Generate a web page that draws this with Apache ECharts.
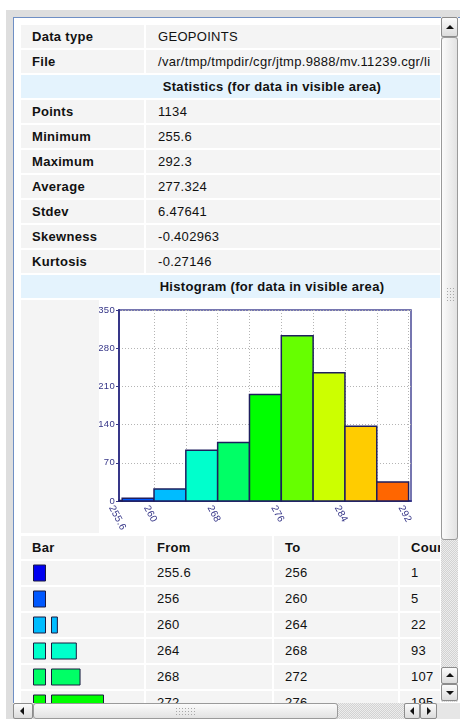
<!DOCTYPE html>
<html lang="en">
<head>
<meta charset="UTF-8" />
<title>Histogram</title>
<script src="https://cdn.jsdelivr.net/npm/echarts@6/dist/echarts.min.js"></script>
<style>
    body {
        margin: 0;
        padding: 0;
        width: 460px;
        height: 719px;
        overflow: hidden;
        background: #fff;
        position: relative;
        font-family: "Liberation Sans", Arial, sans-serif;
        font-size: 13px;
        letter-spacing: 0.3px;
        color: #111;
    }
    .frame { position: absolute; left: 6px; top: 10px; width: 454px; height: 709px; background: #dedede; }
    .panel { position: absolute; left: 13px; top: 17px; width: 447px; height: 702px; background: #fff;
             border-left: 1px solid #6f8fc4; border-top: 1px solid #6f8fc4; box-sizing: border-box; }
    .view { position: absolute; left: 14px; top: 18px; width: 426px; height: 685px; overflow: hidden; background: #fff; }
    .content { position: absolute; left: 7px; top: 7px; width: 502px; height: 800px; }
    .cell { position: absolute; background: #f4f4f4; white-space: nowrap; overflow: hidden; box-sizing: border-box; padding-left: 11px; }
    .lab { font-weight: bold; }
    .val { padding-left: 12px; }
    .head { background: #e4f3fd; font-weight: bold; text-align: center; padding-left: 0; }
    .sb { position: absolute; background: repeating-conic-gradient(#d2d2d2 0 25%, #ededed 0 50%) 0 0/2px 2px; }
    .btn { position: absolute; box-sizing: border-box; border: 1px solid #8c8c8c; border-radius: 2px;
           background: linear-gradient(#fbfbfb, #dcdcdc); }
    .thumb { position: absolute; box-sizing: border-box; border: 1px solid #9a9a9a; border-radius: 3px; }
    .tri { position: absolute; width: 0; height: 0; }
    .grip { position: absolute; background: radial-gradient(circle, #a8a8a8 0.6px, transparent 0.9px) 0 0/3px 3px; }
</style>
</head>
<body>
<div class="frame"></div>
<div class="panel"></div>
<div class="view"><div class="content" id="content"></div></div>
<script>
    // info rows
    const infoLabels = ['Data type', 'File'];
    const infoValues = ['GEOPOINTS', '/var/tmp/tmpdir/cgr/jtmp.9888/mv.11239.cgr/li'];
    const statsTitle = 'Statistics (for data in visible area)';
    const statNames = ['Points', 'Minimum', 'Maximum', 'Average', 'Stdev', 'Skewness', 'Kurtosis'];
    const statValues = ['1134', '255.6', '292.3', '277.324', '6.47641', '-0.402963', '-0.27146'];
    const histTitle = 'Histogram (for data in visible area)';

    // histogram bins
    const binFrom = [255.6, 256, 260, 264, 268, 272, 276, 280, 284, 288];
    const binTo = [256, 260, 264, 268, 272, 276, 280, 284, 288, 292];
    const binCount = [1, 5, 22, 93, 107, 195, 303, 235, 137, 35];
    const binColor = ['#0000f0', '#0058ff', '#00bcff', '#00ffcc', '#00ff66', '#00ff00', '#66ff00', '#ccff00', '#ffcc00', '#ff6600'];

    // axes
    const xMin = 255.6, xMax = 292.3;
    const xGridValues = [255.6, 260, 264, 268, 272, 276, 280, 284, 288, 292];
    const xLabelValues = [255.6, 260, 268, 276, 284, 292];
    const yMax = 350, yStep = 70;

    const tableHead = ['Bar', 'From', 'To', 'Count'];

    const content = document.getElementById('content');
    function cell(top, left, width, height, text, cls) {
        const d = document.createElement('div');
        d.className = 'cell ' + (cls || '');
        d.style.cssText = 'top:' + top + 'px;left:' + left + 'px;width:' + width + 'px;height:' + height + 'px;line-height:' + height + 'px;';
        if (text !== undefined) d.textContent = text;
        content.appendChild(d);
        return d;
    }

    // top table
    let y = 0;
    infoLabels.forEach((t, i) => {
        cell(y, 0, 123, 23, t, 'lab');
        cell(y, 125, 377, 23, infoValues[i], 'val');
        y += 25;
    });
    cell(y, 0, 502, 23, statsTitle, 'head');
    y += 25;
    statNames.forEach((t, i) => {
        cell(y, 0, 123, 23, t, 'lab');
        cell(y, 125, 377, 23, statValues[i], 'val');
        y += 25;
    });
    cell(y, 0, 502, 23, histTitle, 'head');
    y += 25;

    // histogram cell + chart
    cell(y, 0, 502, 233);
    const histDiv = document.createElement('div');
    histDiv.style.cssText = 'position:absolute;left:78px;top:' + y + 'px;width:346px;height:233px;background:#fff;';
    content.appendChild(histDiv);
    y += 236;

    // bottom table
    const colLeft = [0, 125, 253, 379];
    const colWidth = [123, 126, 124, 123];
    tableHead.forEach((t, c) => cell(y, colLeft[c], colWidth[c], 23, t, 'lab'));
    y += 25;
    const rowsTop = y;
    binFrom.forEach((f, i) => {
        cell(y, colLeft[0], colWidth[0], 24);
        cell(y, colLeft[1], colWidth[1], 24, String(f));
        cell(y, colLeft[2], colWidth[2], 24, String(binTo[i]));
        cell(y, colLeft[3], colWidth[3], 24, String(binCount[i]));
        y += 26;
    });
    const barsDiv = document.createElement('div');
    barsDiv.style.cssText = 'position:absolute;left:0;top:' + rowsTop + 'px;width:123px;height:' + (26 * binFrom.length) + 'px;';
    content.appendChild(barsDiv);

    const navy = '#363688';
    const hist = echarts.init(histDiv);
    hist.setOption({
        animation: false,
        grid: {
            left: 20, top: 10, width: 292, height: 191, outerBoundsMode: 'none', containLabel: false,
            show: true, borderColor: '#4a4a96', borderWidth: 1.5, backgroundColor: '#fff'
        },
        xAxis: {
            type: 'value', min: xMin, max: xMax,
            axisLine: { lineStyle: { color: navy, width: 2 } },
            axisTick: { show: false, customValues: xGridValues },
            splitLine: { show: true, lineStyle: { color: '#b4b4b4', type: [1, 2], width: 1 } },
            axisLabel: {
                customValues: xLabelValues, rotate: -62, margin: 1, align: 'left', verticalAlign: 'top', lineHeight: 18,
                color: navy, fontSize: 10, fontFamily: 'Liberation Sans', hideOverlap: false,
                formatter: v => String(v)
            }
        },
        yAxis: {
            type: 'value', min: 0, max: yMax, interval: yStep,
            axisLine: { show: true, lineStyle: { color: navy, width: 2 } },
            axisTick: { show: true, length: 3, lineStyle: { color: navy } },
            splitLine: { show: true, lineStyle: { color: '#b4b4b4', type: [1, 2], width: 1 } },
            axisLabel: { color: navy, fontSize: 9.5, fontFamily: 'Liberation Sans', margin: 4 }
        },
        series: [{
            type: 'custom',
            data: binFrom.map((f, i) => [f, binTo[i], binCount[i]]),
            encode: { x: [0, 1], y: 2 },
            renderItem: function (params, api) {
                const p0 = api.coord([api.value(0), 0]);
                const p1 = api.coord([api.value(1), api.value(2)]);
                return {
                    type: 'rect',
                    shape: { x: p0[0], y: p1[1], width: p1[0] - p0[0], height: p0[1] - p1[1] },
                    style: { fill: binColor[params.dataIndex], stroke: '#1e1e5e', lineWidth: 1.5 }
                };
            }
        }]
    });

    // small bars in the table
    const mini = echarts.init(barsDiv);
    mini.setOption({
        animation: false,
        grid: { left: 30, top: 0, width: 80, height: 26 * binFrom.length, outerBoundsMode: 'none' },
        xAxis: { type: 'value', min: 0, max: 300, show: false },
        yAxis: { type: 'category', inverse: true, data: binFrom.map(String), show: false },
        series: [{
            type: 'custom',
            data: binCount.map((c, i) => [c, i]),
            encode: { x: 0, y: 1 },
            renderItem: function (params, api) {
                const p0 = api.coord([0, api.value(1)]);
                const p1 = api.coord([api.value(0), api.value(1)]);
                const top = p0[1] - 9;
                const style = { fill: binColor[params.dataIndex], stroke: '#1a1a40', lineWidth: 1 };
                const kids = [{ type: 'rect', shape: { x: p0[0] - 17.5, y: top, width: 12, height: 16 }, style: style }];
                if (p1[0] - p0[0] >= 2) {
                    kids.push({ type: 'rect', shape: { x: p0[0] + 0.5, y: top, width: p1[0] - p0[0], height: 16 }, style: style });
                }
                return { type: 'group', children: kids };
            }
        }]
    });

    // scrollbars
    function el(cls, css, parent) {
        const d = document.createElement('div');
        d.className = cls;
        d.style.cssText = css;
        (parent || document.body).appendChild(d);
        return d;
    }
    const triUp = 'left:4px;top:5px;border-left:4px solid transparent;border-right:4px solid transparent;border-bottom:4px solid #111;';
    const triDown = 'left:4px;top:6px;border-left:4px solid transparent;border-right:4px solid transparent;border-top:4px solid #111;';
    const triLeft = 'left:5px;top:3px;border-top:4px solid transparent;border-bottom:4px solid transparent;border-right:4px solid #111;';
    const triRight = 'left:6px;top:3px;border-top:4px solid transparent;border-bottom:4px solid transparent;border-left:4px solid #111;';

    el('sb', 'left:441px;top:17px;width:17px;height:685px;');
    const up1 = el('btn', 'left:441px;top:17px;width:17px;height:20px;');
    el('tri', triUp + 'top:7px;', up1);
    el('thumb', 'left:441px;top:37px;width:17px;height:503px;background:linear-gradient(to right,#fbfbfb,#e2e2e2);');
    el('grip', 'left:446px;top:287px;width:8px;height:16px;');
    const up2 = el('btn', 'left:441px;top:667px;width:17px;height:17px;');
    el('tri', triUp, up2);
    const dn2 = el('btn', 'left:441px;top:684px;width:17px;height:17px;');
    el('tri', triDown, dn2);

    el('sb', 'left:13px;top:703px;width:424px;height:16px;');
    const lf = el('btn', 'left:13px;top:703px;width:20px;height:16px;');
    el('tri', triLeft + 'left:6px;', lf);
    el('thumb', 'left:33px;top:703px;width:305px;height:16px;background:linear-gradient(#fbfbfb,#e2e2e2);');
    el('grip', 'left:175px;top:707px;width:22px;height:8px;');
    const l2 = el('btn', 'left:404px;top:703px;width:16px;height:16px;');
    el('tri', triLeft, l2);
    const r2 = el('btn', 'left:420px;top:703px;width:17px;height:16px;');
    el('tri', triRight, r2);
    el('', 'position:absolute;left:437px;top:703px;width:23px;height:16px;background:#e6e6e6;');
</script>
</body>
</html>
